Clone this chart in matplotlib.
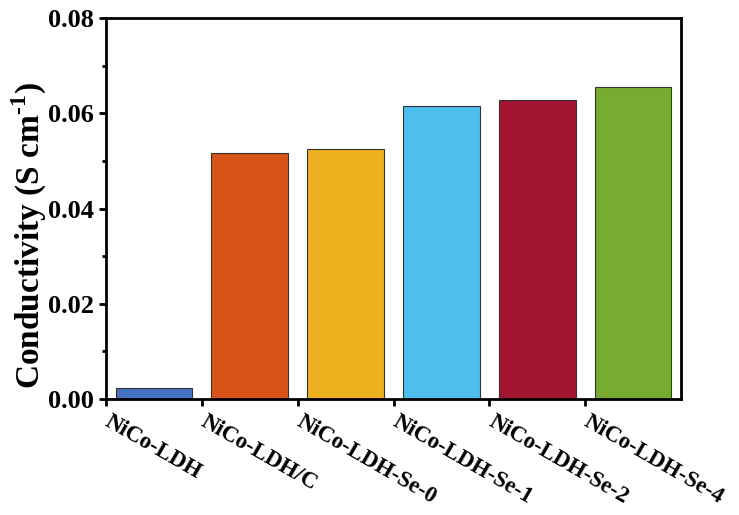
import matplotlib
matplotlib.use("Agg")
import matplotlib.pyplot as plt
from matplotlib.ticker import MultipleLocator

plt.rcParams['font.family'] = ['Liberation Serif', 'DejaVu Serif']
plt.rcParams['font.weight'] = 'bold'
plt.rcParams['mathtext.fontset'] = 'custom'
plt.rcParams['mathtext.rm'] = 'Liberation Serif:bold'

samples = ['NiCo-LDH', 'NiCo-LDH/C', 'NiCo-LDH-Se-0', 'NiCo-LDH-Se-1',
           'NiCo-LDH-Se-2', 'NiCo-LDH-Se-4']
conductivity = [0.0023, 0.0517, 0.0525, 0.0615, 0.0628, 0.0655]
colors = ['#4472C4', '#D95319', '#EDB120', '#4DBEEE', '#A2142F', '#77AC30']

fig = plt.figure(figsize=(7.39, 5.15), dpi=100)
ax = fig.add_axes([106 / 739, 1 - 399 / 515, 575 / 739, 381 / 515])

pos = range(len(samples))
ax.bar(pos, conductivity, width=0.8, color=colors, edgecolor='#333333', linewidth=0.8)

ax.set_xlim(-0.5, len(samples) - 0.5)
ax.set_ylim(0, 0.08)
# tick marks at slot edges, labels slightly to the right of them
ax.set_xticks([p - 0.5 for p in pos])
ax.set_xticklabels([])
ax.set_xticks([p - 0.44 for p in pos], minor=True)
ax.set_xticklabels(samples, minor=True, rotation=-30, ha='left', va='top',
                   rotation_mode='anchor', fontsize=16.5, fontweight='bold')
ax.tick_params(axis='x', which='minor', length=0, pad=9)

ax.yaxis.set_minor_locator(MultipleLocator(0.01))
ax.set_yticks([0, 0.02, 0.04, 0.06, 0.08])
ax.set_yticklabels(['0.00', '0.02', '0.04', '0.06', '0.08'], fontsize=19, fontweight='bold')

ax.tick_params(axis='both', which='major', direction='out', length=5, width=2)
ax.tick_params(axis='y', which='minor', direction='out', length=3, width=2)
for s in ax.spines.values():
    s.set_linewidth(2)

ax.set_ylabel('Conductivity (S cm$^{\\text{-}1}$)', fontsize=24, fontweight='bold')
ax.yaxis.label.set_va('center')
ax.yaxis.set_label_coords(-0.134, 0.43)

fig.savefig('out.png', dpi=100)
